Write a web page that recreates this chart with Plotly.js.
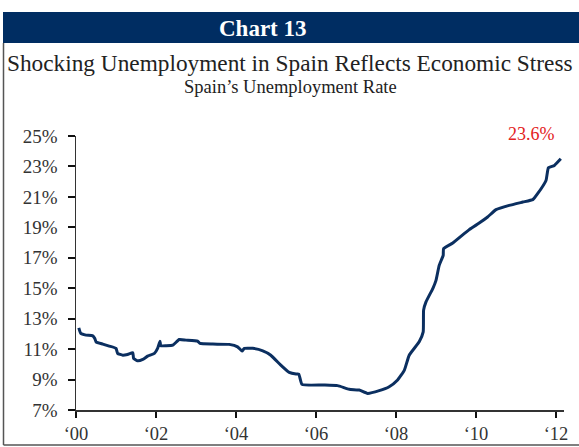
<!DOCTYPE html>
<html>
<head>
<meta charset="utf-8">
<script src="https://cdn.plot.ly/plotly-3.0.1.min.js"></script>
<style>html,body{margin:0;padding:0;background:#fff;}#chart{width:579px;height:447px;}</style>
</head>
<body>
<div id="chart"></div>
<script>
// Data (decimal year, unemployment rate %)
const years = [2000.07,2000.12,2000.25,2000.42,2000.47,2000.50,2000.67,2000.83,2001.00,2001.04,
  2001.17,2001.29,2001.42,2001.44,2001.54,2001.67,2001.79,2001.96,2002.04,2002.10,
  2002.12,2002.25,2002.42,2002.58,2002.75,2003.04,2003.10,2003.42,2003.83,2004.04,
  2004.15,2004.21,2004.42,2004.67,2004.87,2005.12,2005.33,2005.50,2005.57,2005.65,
  2006.17,2006.54,2006.83,2007.08,2007.29,2007.58,2007.83,2008.04,2008.21,2008.33,
  2008.58,2008.68,2008.69,2008.75,2008.92,2009.00,2009.08,2009.18,2009.19,2009.42,
  2009.83,2010.08,2010.29,2010.50,2010.83,2011.17,2011.42,2011.54,2011.75,2011.81,
  2011.96,2012.12];
const rates = [12.40,12.03,11.92,11.87,11.70,11.48,11.33,11.20,11.05,10.72,
  10.60,10.65,10.76,10.39,10.23,10.32,10.54,10.72,11.05,11.52,
  11.22,11.22,11.26,11.63,11.59,11.52,11.37,11.33,11.31,11.15,
  10.87,11.05,11.05,10.89,10.60,9.95,9.47,9.36,9.36,8.68,
  8.64,8.60,8.36,8.31,8.09,8.27,8.53,8.97,9.62,10.60,
  11.48,12.13,13.56,14.10,14.98,15.52,16.50,17.16,17.60,17.97,
  18.85,19.28,19.68,20.16,20.44,20.66,20.82,21.21,22.08,22.91,
  23.07,23.50];
const xTickVals = [2000,2002,2004,2006,2008,2010,2012];
const xTickText = ['\u201800','\u201802','\u201804','\u201806','\u201808','\u201810','\u201812'];
const yTickVals = [7,9,11,13,15,17,19,21,23,25];
const yTickText = ['7%','9%','11%','13%','15%','17%','19%','21%','23%','25%'];
const lastLabel = '23.6%';
const chartLabel = 'Chart 13';
const titleText = 'Shocking Unemployment in Spain Reflects Economic Stress';
const subtitleText = 'Spain\u2019s Unemployment Rate';

const W = 579, H = 447;
const M = {l: 76, r: 15, t: 136, b: 37};
const PW = W - M.l - M.r, PH = H - M.t - M.b;
const px = x => (x - M.l) / PW;
const py = y => (H - M.b - y) / PH;
const serif = 'Liberation Serif, Times New Roman, serif';

const trace = {
  x: years, y: rates, type: 'scatter', mode: 'lines',
  line: {color: '#0b2f60', width: 3, shape: 'spline', smoothing: 0.4},
  hoverinfo: 'skip'
};

const layout = {
  width: W, height: H,
  margin: M,
  paper_bgcolor: '#fff', plot_bgcolor: '#fff',
  showlegend: false,
  font: {family: serif, color: '#333'},
  xaxis: {
    range: [2000, 2012.2], tickvals: xTickVals, ticktext: xTickText,
    showgrid: false, zeroline: false, showline: true, linecolor: '#333', linewidth: 1.5,
    ticks: 'outside', ticklen: 6, tickwidth: 2, tickcolor: '#111',
    tickfont: {family: serif, size: 18.5, color: '#333'}
  },
  yaxis: {
    range: [7, 25], tickvals: yTickVals, ticktext: yTickText,
    showgrid: false, zeroline: false, showline: true, linecolor: '#333', linewidth: 1.5,
    ticks: 'outside', ticklen: 7, tickwidth: 2, tickcolor: '#111', ticklabelstandoff: 6,
    tickfont: {family: serif, size: 19, color: '#333'}
  },
  shapes: [
    {type: 'rect', xref: 'paper', yref: 'paper', x0: px(3), x1: px(579), y0: py(43), y1: py(12),
     fillcolor: '#002d62', line: {width: 0}, layer: 'below'},
    {type: 'line', xref: 'paper', yref: 'paper', x0: px(3.5), x1: px(3.5), y0: py(445), y1: py(43),
     line: {color: '#555', width: 1.5}},
    {type: 'line', xref: 'paper', yref: 'paper', x0: px(3.5), x1: px(579), y0: py(445), y1: py(445),
     line: {color: '#555', width: 1.5}}
  ],
  annotations: [
    {text: '<b>' + chartLabel + '</b>', xref: 'paper', yref: 'paper', x: px(263), y: py(28),
     xanchor: 'center', yanchor: 'middle', showarrow: false,
     font: {family: serif, size: 23, color: '#fff'}},
    {text: titleText, xref: 'paper', yref: 'paper', x: px(290), y: py(63),
     xanchor: 'center', yanchor: 'middle', showarrow: false,
     font: {family: serif, size: 23.3, color: '#222'}},
    {text: subtitleText, xref: 'paper', yref: 'paper', x: px(290), y: py(87),
     xanchor: 'center', yanchor: 'middle', showarrow: false,
     font: {family: serif, size: 18.5, color: '#222'}},
    {text: lastLabel, xref: 'paper', yref: 'paper', x: px(531), y: py(134),
     xanchor: 'center', yanchor: 'middle', showarrow: false,
     font: {family: serif, size: 18, color: '#e32222'}}
  ]
};

Plotly.newPlot('chart', [trace], layout, {staticPlot: true, displayModeBar: false});
</script>
</body>
</html>
